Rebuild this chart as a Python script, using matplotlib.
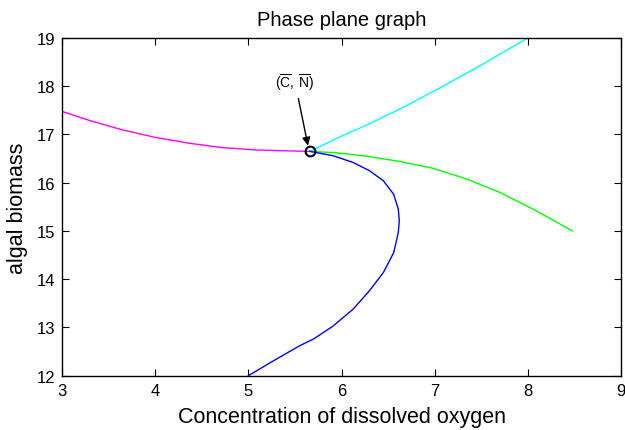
import numpy as np
import matplotlib
matplotlib.use("Agg")
import matplotlib.pyplot as plt

plt.rcParams['font.family'] = ['Liberation Sans', 'DejaVu Sans']
plt.rcParams['mathtext.fontset'] = 'custom'
plt.rcParams['mathtext.rm'] = 'Liberation Sans'

# equilibrium point (C bar, N bar)
eq_c = 5.66
eq_n = 16.65

# trajectories
mag_x = [3.0, 3.28, 3.64, 4.0, 4.36, 4.71, 5.07, 5.43, 5.66]
mag_y = [17.48, 17.30, 17.10, 16.94, 16.82, 16.73, 16.68, 16.66, 16.65]

cyan_x = [5.66, 5.96, 6.32, 6.68, 7.04, 7.40, 7.75, 8.0]
cyan_y = [16.65, 16.93, 17.24, 17.58, 17.95, 18.33, 18.72, 19.0]

green_x = [5.66, 5.95, 6.27, 6.63, 6.98, 7.34, 7.70, 8.06, 8.48]
green_y = [16.65, 16.62, 16.55, 16.44, 16.30, 16.08, 15.80, 15.45, 15.0]

blue_x = [5.66, 5.91, 6.125, 6.30, 6.45, 6.56, 6.61, 6.62, 6.61, 6.56, 6.45,
          6.30, 6.125, 5.91, 5.70, 5.55, 5.28, 5.0]
blue_y = [16.65, 16.56, 16.42, 16.25, 16.04, 15.76, 15.45, 15.21, 14.97, 14.55,
          14.14, 13.76, 13.38, 13.03, 12.76, 12.62, 12.32, 12.0]

fig = plt.figure(figsize=(6.25, 4.31), dpi=100)
ax = fig.add_axes([0.0992, 0.126, 0.8944, 0.7835])

ax.plot(mag_x, mag_y, color='#ff00ff', lw=1.0)
ax.plot(cyan_x, cyan_y, color='#00ffff', lw=1.0)
ax.plot(green_x, green_y, color='#00ff00', lw=1.0)
ax.plot(blue_x, blue_y, color='#0000ff', lw=1.0)
ax.plot([eq_c], [eq_n], 'o', mfc='none', mec='black', ms=7, mew=1.5)

ax.annotate(r'$(\overline{\mathrm{C}},\,\overline{\mathrm{N}})$', xy=(eq_c - 0.02, eq_n + 0.12),
            xytext=(5.5, 18.1), ha='center', va='center', fontsize=10,
            arrowprops=dict(arrowstyle='-|>', color='black', lw=1.0,
                            mutation_scale=12, shrinkA=3, shrinkB=0))

ax.set_xlim(3, 9)
ax.set_ylim(12, 19)
ax.set_xticks(range(3, 10))
ax.set_yticks(range(12, 20))
ax.tick_params(direction='in', top=True, right=True, length=5, labelsize=12, pad=5)
for s in ax.spines.values():
    s.set_linewidth(1.0)

ax.set_title('Phase plane graph', fontsize=14.5, pad=9.5)
ax.set_xlabel('Concentration of dissolved oxygen', fontsize=15.5, labelpad=6)
ax.set_ylabel('algal biomass', fontsize=15.5, labelpad=6)

fig.savefig('out.png', dpi=100)
